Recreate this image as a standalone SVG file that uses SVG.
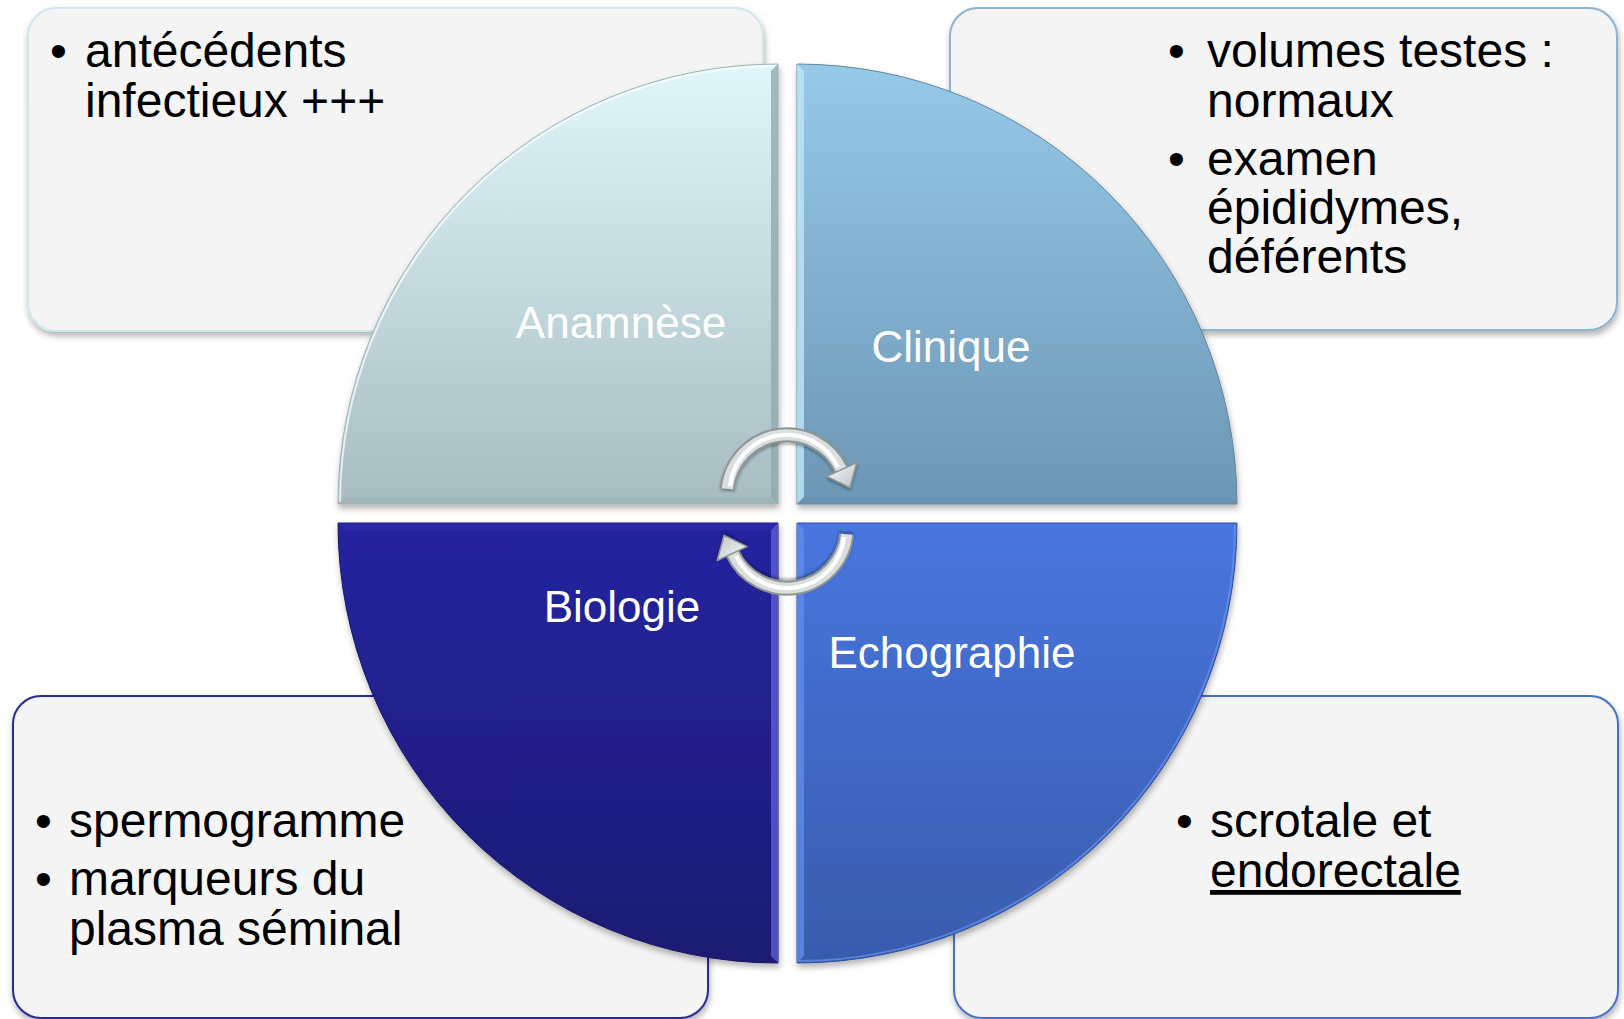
<svg xmlns="http://www.w3.org/2000/svg" width="1624" height="1019" viewBox="0 0 1624 1019">
<style>
.box{fill:#F4F4F4;stroke-width:2}
.bt{font-family:"Liberation Sans",Arial,sans-serif;font-size:48px;fill:#000}
.ql{font-family:"Liberation Sans",Arial,sans-serif;font-size:44px;fill:#FFFFFF;text-anchor:middle}
</style>
<defs>
<filter id="sh" x="-10%" y="-10%" width="125%" height="125%">
<feDropShadow dx="1" dy="4" stdDeviation="3" flood-color="#000" flood-opacity="0.3"/>
</filter>
<filter id="ash" x="-20%" y="-20%" width="140%" height="140%">
<feDropShadow dx="0" dy="2" stdDeviation="1.5" flood-color="#000" flood-opacity="0.35"/>
</filter>
<linearGradient id="gA" x1="0" y1="0" x2="0" y2="1"><stop offset="0" stop-color="#DFF6FA"/><stop offset="1" stop-color="#A8BDC2"/></linearGradient>
<linearGradient id="gC" x1="0" y1="0" x2="0" y2="1"><stop offset="0" stop-color="#97C9E9"/><stop offset="1" stop-color="#6C97B4"/></linearGradient>
<linearGradient id="gB" x1="0" y1="0" x2="0" y2="1"><stop offset="0" stop-color="#2524A0"/><stop offset="1" stop-color="#1C1A73"/></linearGradient>
<linearGradient id="gE" x1="0" y1="0" x2="0" y2="1"><stop offset="0" stop-color="#4876DF"/><stop offset="1" stop-color="#395BAC"/></linearGradient>
<linearGradient id="gHead" x1="0" y1="0" x2="1" y2="1"><stop offset="0" stop-color="#FFFFFF"/><stop offset="1" stop-color="#B9BFBF"/></linearGradient>
</defs>

<g id="box-anamnese">
<rect class="box" x="28" y="8" width="735" height="323" rx="28" stroke="#CFE8EE" filter="url(#sh)"/>
<text class="bt" x="50" y="67">•</text>
<text class="bt" x="85" y="67">antécédents</text>
<text class="bt" x="85" y="117">infectieux +++</text>
</g>
<g id="box-clinique">
<rect class="box" x="950" y="8" width="667" height="322" rx="28" stroke="#8DB3D3" filter="url(#sh)"/>
<text class="bt" x="1168" y="67">•</text>
<text class="bt" x="1207" y="67">volumes testes :</text>
<text class="bt" x="1207" y="117">normaux</text>
<text class="bt" x="1168" y="175">•</text>
<text class="bt" x="1207" y="175">examen</text>
<text class="bt" x="1207" y="224">épididymes,</text>
<text class="bt" x="1207" y="273">déférents</text>
</g>
<g id="box-biologie">
<rect class="box" x="13" y="696" width="695" height="322" rx="28" stroke="#2A2A92" filter="url(#sh)"/>
<text class="bt" x="35" y="837">•</text>
<text class="bt" x="69" y="837">spermogramme</text>
<text class="bt" x="35" y="895">•</text>
<text class="bt" x="69" y="895">marqueurs du</text>
<text class="bt" x="69" y="945">plasma séminal</text>
</g>
<g id="box-echographie">
<rect class="box" x="954" y="696" width="664" height="322" rx="28" stroke="#4A70C8" filter="url(#sh)"/>
<text class="bt" x="1176" y="837">•</text>
<text class="bt" x="1210" y="837">scrotale et</text>
<text class="bt" x="1210" y="887" text-decoration="underline">endorectale</text>
</g>

<g id="q-anamnese">
<path d="M778 504 L338 504 A440 440 0 0 1 778 64 Z" fill="url(#gA)" stroke="#9DB3B8" stroke-width="1" filter="url(#sh)"/>
<path d="M340 502 A438 438 0 0 1 776 66" fill="none" stroke="#FFFFFF" stroke-opacity="0.7" stroke-width="2"/>
<polygon points="771,71 778,64 778,504 771,497" fill="#93A9AE" opacity="0.8"/>
<polygon points="338,504 778,504 771,497 345,497" fill="#9BB0B5" opacity="0.6"/>
<text class="ql" x="621" y="338">Anamnèse</text>
</g>
<g id="q-clinique">
<path d="M797 504 L797 64 A440 440 0 0 1 1237 504 Z" fill="url(#gC)" stroke="#5F86A1" stroke-width="1" filter="url(#sh)"/>
<polygon points="797,64 804,71 804,497 797,504" fill="#BDE3F8" opacity="0.85"/>
<polygon points="797,504 804,497 1230,497 1237,504" fill="#668EAA" opacity="0.6"/>
<text class="ql" x="951" y="362">Clinique</text>
</g>
<g id="q-biologie">
<path d="M778 523 L778 963 A440 440 0 0 1 338 523 Z" fill="url(#gB)" stroke="#17165F" stroke-width="1" filter="url(#sh)"/>
<polygon points="771,530 778,523 778,963 771,956" fill="#5B5CDA" opacity="0.8"/>
<polygon points="338,523 778,523 771,530 345,530" fill="#2E2DB0" opacity="0.6"/>
<text class="ql" x="622" y="622">Biologie</text>
</g>
<g id="q-echographie">
<path d="M797 523 L1237 523 A440 440 0 0 1 797 963 Z" fill="url(#gE)" stroke="#2F4E98" stroke-width="1" filter="url(#sh)"/>
<polygon points="797,523 804,530 804,956 797,963" fill="#5F8CEB" opacity="0.8"/>
<path d="M1235 525 A438 438 0 0 1 799 961" fill="none" stroke="#6E97F0" stroke-opacity="0.6" stroke-width="2"/>
<text class="ql" x="952" y="668">Echographie</text>
</g>

<g id="connectors">
<g id="arrow-top" filter="url(#ash)">
<path d="M727.3 488.7 A60 60 0 0 1 841.4 469.6" fill="none" stroke="#8E9595" stroke-width="15"/>
<path d="M727.3 488.7 A60 60 0 0 1 841.4 469.6" fill="none" stroke="#DADEDE" stroke-width="11"/>
<path d="M730 486 A57 57 0 0 1 838 467" fill="none" stroke="#FFFFFF" stroke-width="4"/>
<polygon points="826.9,476.4 856.8,462.5 849.9,487.7" fill="url(#gHead)" stroke="#8E9595" stroke-width="1.5" stroke-linejoin="round"/>
</g>
<g id="arrow-bottom" filter="url(#ash)" transform="rotate(180 787 511.5)">
<path d="M727.3 488.7 A60 60 0 0 1 841.4 469.6" fill="none" stroke="#8E9595" stroke-width="15"/>
<path d="M727.3 488.7 A60 60 0 0 1 841.4 469.6" fill="none" stroke="#DADEDE" stroke-width="11"/>
<path d="M730 486 A57 57 0 0 1 838 467" fill="none" stroke="#FFFFFF" stroke-width="4"/>
<polygon points="826.9,476.4 856.8,462.5 849.9,487.7" fill="url(#gHead)" stroke="#8E9595" stroke-width="1.5" stroke-linejoin="round"/>
</g>
</g>
</svg>
